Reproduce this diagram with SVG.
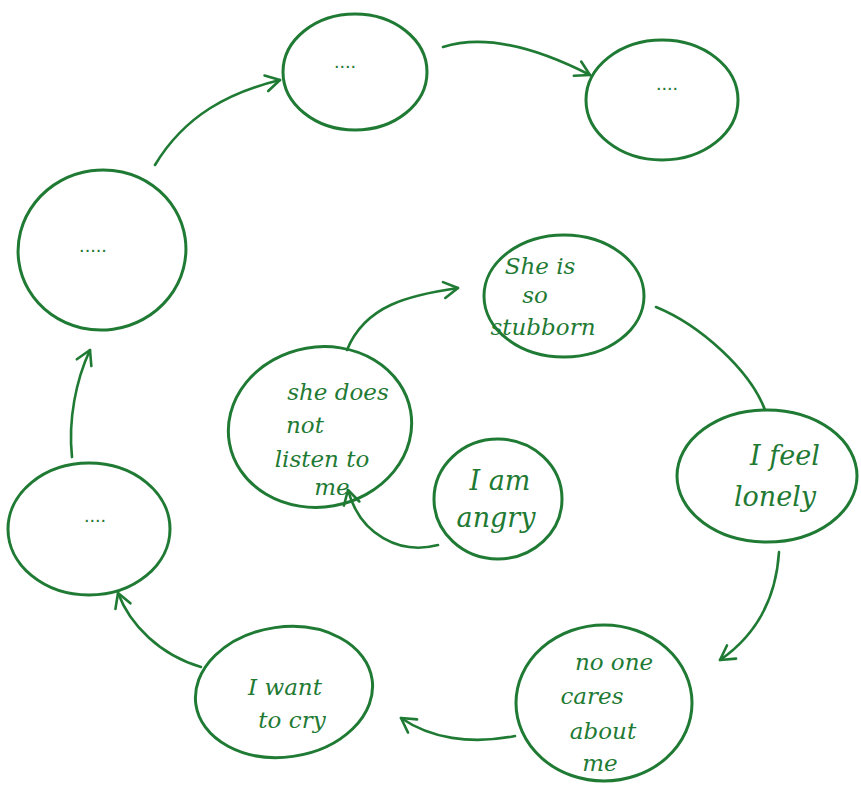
<svg xmlns="http://www.w3.org/2000/svg" width="861" height="789" viewBox="0 0 861 789">
<defs>
<style>
.n{fill:none;stroke:#1f7a34;stroke-width:3;stroke-linecap:round}
.c{fill:none;stroke:#1f7a34;stroke-width:2.6;stroke-linecap:round}
.t{font-family:"DejaVu Serif","Liberation Serif",serif;font-style:italic;font-size:23px;fill:#1f7a34;text-anchor:middle}
.b{font-size:27px}
.d{font-family:"Liberation Sans",sans-serif;font-size:20px;fill:#1f7a34;text-anchor:middle}
</style>
<marker id="a" viewBox="0 0 20 20" refX="18" refY="10" markerWidth="20" markerHeight="20" markerUnits="userSpaceOnUse" orient="auto">
<path d="M4,2 L18,10 L4,18" fill="none" stroke="#1f7a34" stroke-width="2.6" stroke-linecap="round" stroke-linejoin="round"/>
</marker>
</defs>
<rect width="861" height="789" fill="#fff"/>
<g id="connectors">
<path class="c" d="M155,165 C185,115 230,92 280,80" marker-end="url(#a)"/>
<path class="c" d="M443,47 C490,32 545,52 590,75" marker-end="url(#a)"/>
<path class="c" d="M72,457 C68,420 76,380 90,350" marker-end="url(#a)"/>
<path class="c" d="M201,667 C160,655 130,625 118,593" marker-end="url(#a)"/>
<path class="c" d="M515,736 C470,745 430,738 401,718" marker-end="url(#a)"/>
<path class="c" d="M779,552 C776,600 756,635 720,660" marker-end="url(#a)"/>
<path class="c" d="M656,307 C700,325 750,370 765,410"/>
<path class="c" d="M438,545 C400,555 360,535 348,490" marker-end="url(#a)"/>
<path class="c" d="M347,350 C365,305 410,295 458,288" marker-end="url(#a)"/>
</g>
<g id="node-top-middle">
<ellipse class="n" cx="355" cy="72" rx="72" ry="58"/>
<text class="d" x="345" y="68">....</text>
</g>
<g id="node-top-right">
<ellipse class="n" cx="662" cy="100" rx="76" ry="60"/>
<text class="d" x="667" y="90">....</text>
</g>
<g id="node-left">
<ellipse class="n" cx="102" cy="250" rx="84" ry="80" transform="rotate(-8 102 250)"/>
<text class="d" x="93" y="252">.....</text>
</g>
<g id="node-lower-left">
<ellipse class="n" cx="89" cy="529" rx="81" ry="66"/>
<text class="d" x="95" y="522">....</text>
</g>
<g id="node-want-cry">
<ellipse class="n" cx="284" cy="692" rx="89" ry="65" transform="rotate(-8 284 692)"/>
<text class="t" x="285" y="695">I want</text>
<text class="t" x="292" y="728">to cry</text>
</g>
<g id="node-no-one-cares">
<ellipse class="n" cx="604" cy="703" rx="88" ry="78"/>
<text class="t" x="614" y="670">no one</text>
<text class="t" x="592" y="704">cares</text>
<text class="t" x="603" y="739">about</text>
<text class="t" x="600" y="771">me</text>
</g>
<g id="node-lonely">
<ellipse class="n" cx="767" cy="476" rx="90" ry="66"/>
<text class="t b" x="785" y="465">I feel</text>
<text class="t b" x="775" y="506">lonely</text>
</g>
<g id="node-stubborn">
<ellipse class="n" cx="564" cy="296" rx="80" ry="61"/>
<text class="t" x="540" y="274">She is</text>
<text class="t" x="535" y="303">so</text>
<text class="t" x="543" y="335">stubborn</text>
</g>
<g id="node-not-listen">
<ellipse class="n" cx="320" cy="427" rx="92" ry="80" transform="rotate(-10 320 427)"/>
<text class="t" x="338" y="400">she does</text>
<text class="t" x="305" y="433">not</text>
<text class="t" x="322" y="467">listen to</text>
<text class="t" x="332" y="495">me</text>
</g>
<g id="node-angry">
<ellipse class="n" cx="498" cy="499" rx="64" ry="60"/>
<text class="t b" x="500" y="490">I am</text>
<text class="t b" x="496" y="527">angry</text>
</g>
</svg>
